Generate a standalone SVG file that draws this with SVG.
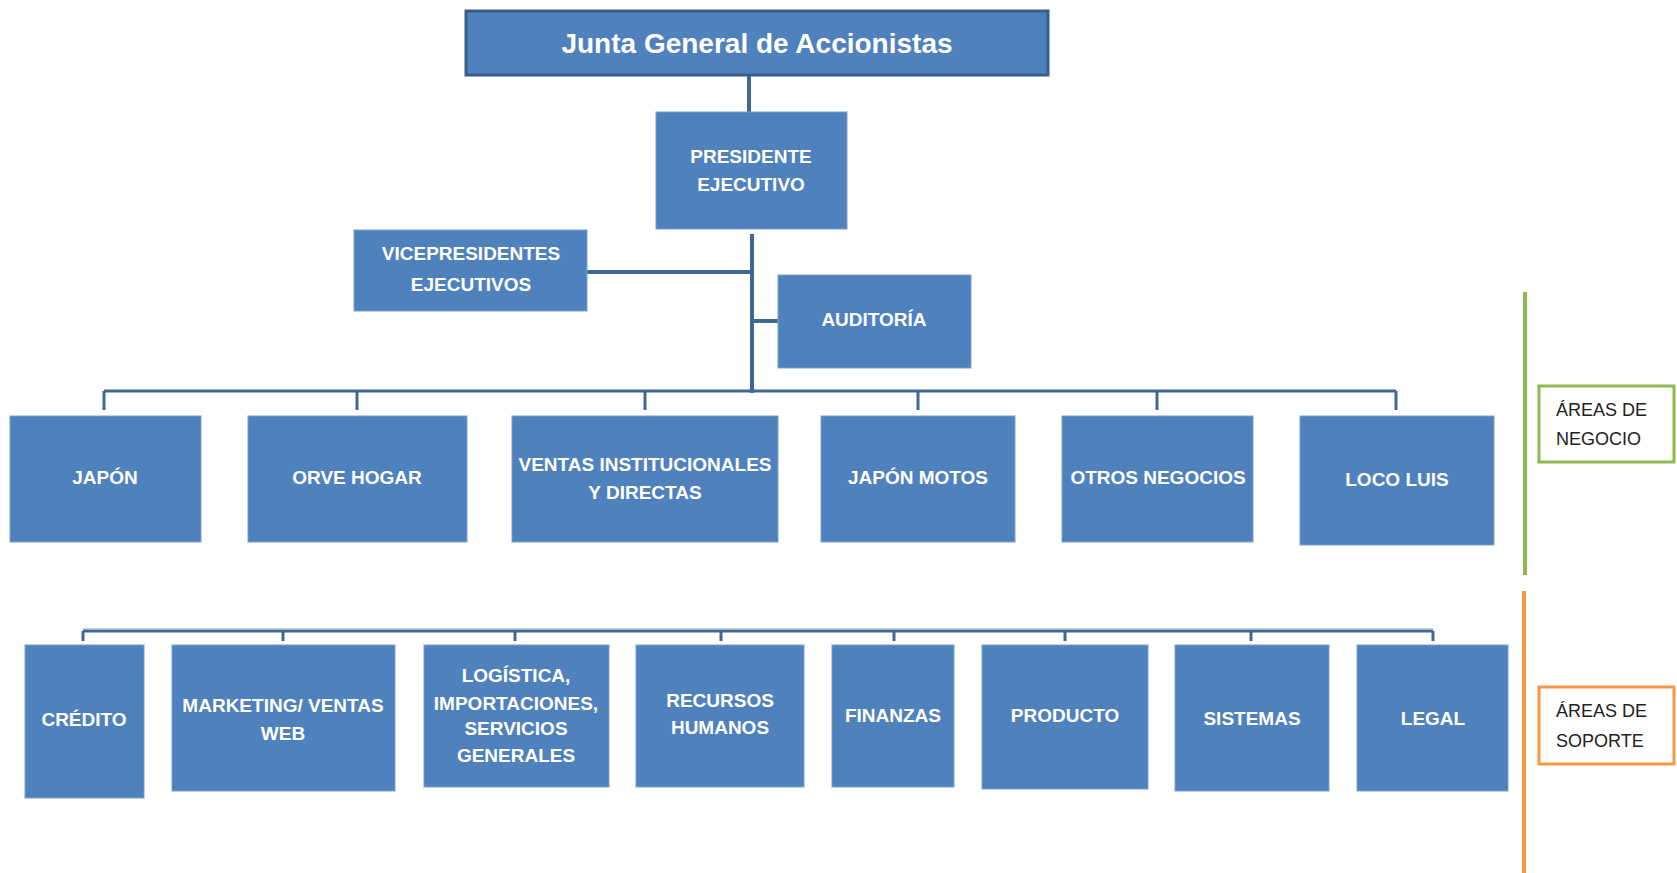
<svg xmlns="http://www.w3.org/2000/svg" width="1677" height="873" viewBox="0 0 1677 873">
<style>
.box{fill:#4f81bd;stroke:#7b9fcc;stroke-width:1}
.t{font-family:"Liberation Sans",Arial,sans-serif;font-weight:bold;font-size:19px;fill:#ffffff;text-anchor:middle}
.c{fill:none;stroke:#3f6896;stroke-width:4}
.c2{fill:none;stroke:#3f6896;stroke-width:3}
.lbl{font-family:"Liberation Sans",Arial,sans-serif;font-size:18px;fill:#222222;text-anchor:start}
</style>
<rect width="1677" height="873" fill="#ffffff"/>
<g id="connectors">
<path class="c" d="M749 75 V112"/>
<path class="c" d="M752 234 V393"/>
<path class="c" d="M587 272 H752"/>
<path class="c" d="M752 321 H778"/>
<path class="c2" d="M104 391 H1396"/>
<path class="c2" d="M104 391 V410 M357 391 V410 M645 391 V410 M918 391 V410 M1157 391 V410 M1396 391 V410"/>
<path class="c2" d="M83 631 H1433"/>
<path d="M83 629 H1433" fill="none" stroke="#8aa7cc" stroke-width="1"/>
<path class="c2" d="M83 631 V641 M283 631 V641 M515 631 V641 M721 631 V641 M894 631 V641 M1065 631 V641 M1251 631 V641 M1433 631 V641"/>
</g>
<g id="junta">
<rect x="466" y="11" width="582" height="64" fill="#4f81bd" stroke="#385d8a" stroke-width="3"/>
<text class="t" x="757" y="53" style="font-size:28px">Junta General de Accionistas</text>
</g>
<g id="presidente">
<rect class="box" x="656" y="112" width="191" height="117"/>
<text class="t" x="751" y="163">PRESIDENTE</text>
<text class="t" x="751" y="191">EJECUTIVO</text>
</g>
<g id="vicepresidentes">
<rect class="box" x="354" y="230" width="233" height="81"/>
<text class="t" x="471" y="260">VICEPRESIDENTES</text>
<text class="t" x="471" y="291">EJECUTIVOS</text>
</g>
<g id="auditoria">
<rect class="box" x="778" y="275" width="193" height="93"/>
<text class="t" x="874" y="326">AUDITORÍA</text>
</g>
<g id="japon">
<rect class="box" x="10" y="416" width="191" height="126"/>
<text class="t" x="105" y="484">JAPÓN</text>
</g>
<g id="orve">
<rect class="box" x="248" y="416" width="219" height="126"/>
<text class="t" x="357" y="484">ORVE HOGAR</text>
</g>
<g id="ventas">
<rect class="box" x="512" y="416" width="266" height="126"/>
<text class="t" x="645" y="471">VENTAS INSTITUCIONALES</text>
<text class="t" x="645" y="499">Y DIRECTAS</text>
</g>
<g id="japonmotos">
<rect class="box" x="821" y="416" width="194" height="126"/>
<text class="t" x="918" y="484">JAPÓN MOTOS</text>
</g>
<g id="otros">
<rect class="box" x="1062" y="416" width="191" height="126"/>
<text class="t" x="1158" y="484">OTROS NEGOCIOS</text>
</g>
<g id="locoluis">
<rect class="box" x="1300" y="416" width="194" height="129"/>
<text class="t" x="1397" y="486">LOCO LUIS</text>
</g>
<g id="credito">
<rect class="box" x="25" y="645" width="119" height="153"/>
<text class="t" x="84" y="726">CRÉDITO</text>
</g>
<g id="marketing">
<rect class="box" x="172" y="645" width="223" height="146"/>
<text class="t" x="283" y="712">MARKETING/ VENTAS</text>
<text class="t" x="283" y="740">WEB</text>
</g>
<g id="logistica">
<rect class="box" x="424" y="645" width="185" height="142"/>
<text class="t" x="516" y="682">LOGÍSTICA,</text>
<text class="t" x="516" y="710">IMPORTACIONES,</text>
<text class="t" x="516" y="735">SERVICIOS</text>
<text class="t" x="516" y="762">GENERALES</text>
</g>
<g id="rrhh">
<rect class="box" x="636" y="645" width="168" height="142"/>
<text class="t" x="720" y="707">RECURSOS</text>
<text class="t" x="720" y="734">HUMANOS</text>
</g>
<g id="finanzas">
<rect class="box" x="832" y="645" width="122" height="142"/>
<text class="t" x="893" y="722">FINANZAS</text>
</g>
<g id="producto">
<rect class="box" x="982" y="645" width="166" height="144"/>
<text class="t" x="1065" y="722">PRODUCTO</text>
</g>
<g id="sistemas">
<rect class="box" x="1175" y="645" width="154" height="146"/>
<text class="t" x="1252" y="725">SISTEMAS</text>
</g>
<g id="legal">
<rect class="box" x="1357" y="645" width="151" height="146"/>
<text class="t" x="1433" y="725">LEGAL</text>
</g>
<g id="areas-negocio">
<path d="M1525 292 V575" stroke="#8cba4f" stroke-width="4" fill="none"/>
<rect x="1539" y="386" width="135" height="76" fill="#ffffff" stroke="#8cba4f" stroke-width="3"/>
<text class="lbl" x="1556" y="416">ÁREAS DE</text>
<text class="lbl" x="1556" y="445">NEGOCIO</text>
</g>
<g id="areas-soporte">
<path d="M1524 591 V873" stroke="#f79646" stroke-width="4" fill="none"/>
<rect x="1539" y="687" width="135" height="77" fill="#ffffff" stroke="#f79646" stroke-width="3"/>
<text class="lbl" x="1556" y="717">ÁREAS DE</text>
<text class="lbl" x="1556" y="747">SOPORTE</text>
</g>
</svg>
